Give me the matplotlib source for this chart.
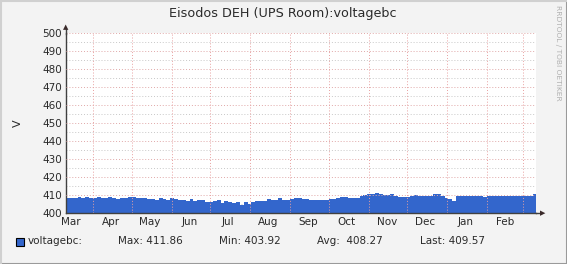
#!/usr/bin/env python3
"""RRDtool-style voltage graph, one year of data."""
from datetime import date
import matplotlib
matplotlib.use('Agg')
import matplotlib.pyplot as plt
from matplotlib.lines import Line2D

# data: one value every 3 days starting 2018-03-11
start = date(2018, 3, 11)
step_days = 3
voltage = [
    408.3, 408.3, 408.7, 409.3, 408.3, 409.0, 408.3, 408.7, 409.0, 408.7,
    408.7, 409.3, 408.3, 408.0, 408.7, 408.7, 408.9, 408.9, 408.3, 408.3,
    408.3, 408.0, 407.8, 407.2, 408.3, 408.0, 407.6, 408.3, 408.2, 407.6,
    407.5, 407.0, 407.8, 406.9, 407.2, 407.6, 406.5, 406.1, 406.8, 407.2,
    405.6, 406.8, 406.5, 405.9, 406.1, 404.6, 406.1, 405.4, 406.1, 406.7,
    406.9, 406.9, 408.0, 407.4, 407.4, 408.3, 407.4, 407.4, 407.8, 408.3,
    408.3, 408.0, 408.0, 407.2, 407.6, 407.4, 407.4, 407.4, 408.0, 408.0,
    408.3, 409.3, 409.3, 408.7, 408.7, 408.3, 409.8, 410.2, 410.6, 410.6,
    411.1, 410.7, 410.2, 410.2, 410.6, 409.4, 409.1, 409.3, 409.3, 409.6,
    410.2, 409.4, 409.6, 409.6, 409.6, 410.6, 410.6, 409.8, 408.7, 408.0,
    406.9, 409.8, 409.6, 409.6, 409.6, 409.6, 409.6, 409.6, 409.1, 409.6,
    409.4, 409.4, 409.4, 409.4, 409.4, 409.4, 409.6, 409.6, 409.6, 409.4,
    409.4, 410.6, 409.6,
]
months = ['Mar', 'Apr', 'May', 'Jun', 'Jul', 'Aug', 'Sep', 'Oct', 'Nov',
          'Dec', 'Jan', 'Feb']
stats = {'Max': '411.86', 'Min': '403.92', 'Avg': ' 408.27', 'Last': '409.57'}

span = 365
days = [i * step_days for i in range(len(voltage))] + [span]
vals = voltage + [voltage[-1]]

blue = '#3366cc'
text_c = '#2a2a2a'
fig = plt.figure(figsize=(5.67, 2.64), dpi=100)
fig.patch.set_facecolor('#f3f3f3')
W, H = 567.0, 264.0
ax = fig.add_axes([66 / W, 1 - 213.3 / H, 470 / W, (213.3 - 33.5) / H])
ax.set_facecolor('white')

ax.fill_between(days, 0, vals, step='post', color=blue, linewidth=0, zorder=2)
ax.set_xlim(0, span)
ax.set_ylim(400, 500)

# grid
for y in range(405, 500, 10):
    ax.axhline(y, color='#c8c8c8', lw=0.7, ls=(0, (1, 2)), zorder=1)
for y in range(410, 501, 10):
    ax.axhline(y, color='#e0a8a8', lw=0.7, ls=(0, (1, 2)), zorder=3)

month_starts = []
label_pos = []
for k in range(13):
    yr = 2018 + (2 + k) // 12
    mo = (2 + k) % 12 + 1
    d0 = (date(yr, mo, 1) - start).days
    d15 = (date(yr, mo, 15) - start).days
    if 0 < d0 < span:
        month_starts.append(d0)
    if 0 <= d15 < span:
        label_pos.append(d15)
for d in month_starts:
    ax.axvline(d, color='#e8a0a0', lw=0.7, ls=(0, (1, 2)), zorder=3)

ax.set_yticks(range(400, 501, 10))
ax.set_xticks(label_pos)
ax.set_xticklabels(months[:len(label_pos)])
ax.tick_params(length=0, labelsize=7.5, colors=text_c, pad=3)
ax.set_ylabel('V', fontsize=8, color=text_c, labelpad=14)
for s in ['top', 'right']:
    ax.spines[s].set_visible(False)
for s in ['left', 'bottom']:
    ax.spines[s].set_color('#404040')
    ax.spines[s].set_linewidth(1)

# axis arrows
fig.add_artist(Line2D([536 / W, 541 / W], [1 - 213.3 / H] * 2, color='#404040', lw=1))
fig.add_artist(Line2D([66 / W, 66 / W], [1 - 33.5 / H, 1 - 29 / H], color='#404040', lw=1))
fig.text(543 / W, 1 - 213.3 / H, '\u25b6', fontsize=5, color='#3a2a2a', ha='center', va='center')
fig.text(66 / W, 1 - 27.5 / H, '\u25b2', fontsize=5, color='#3a2a2a', ha='center', va='center')

fig.text(283 / W, 1 - 14 / H, 'Eisodos DEH (UPS Room):voltagebc', fontsize=9.2,
         color=text_c, ha='center', va='center')
fig.text(558 / W, 1 - 5 / H, 'RRDTOOL / TOBI OETIKER', fontsize=5.4, color='#b0b0b0',
         rotation=-90, ha='center', va='top')

# legend
ly = 1 - 241 / H
fig.patches.append(plt.Rectangle((16 / W, 1 - 245.5 / H), 8 / W, 8 / H, transform=fig.transFigure,
                                 facecolor=blue, edgecolor='black', lw=0.8))
fig.text(28 / W, ly, 'voltagebc:', fontsize=7.5, color=text_c, va='center')
fig.text(118 / W, ly, 'Max: ' + stats['Max'], fontsize=7.5, color=text_c, va='center')
fig.text(219 / W, ly, 'Min: ' + stats['Min'], fontsize=7.5, color=text_c, va='center')
fig.text(317 / W, ly, 'Avg: ' + stats['Avg'], fontsize=7.5, color=text_c, va='center')
fig.text(420 / W, ly, 'Last: ' + stats['Last'], fontsize=7.5, color=text_c, va='center')

# 3d frame
fig.add_artist(Line2D([0, 1], [0.5 / H, 0.5 / H], color='#9a9a9a', lw=1.5))
fig.add_artist(Line2D([1 - 0.5 / W, 1 - 0.5 / W], [0, 1], color='#9a9a9a', lw=1.5))
fig.add_artist(Line2D([0, 1], [1 - 0.5 / H, 1 - 0.5 / H], color='#d0d0d0', lw=1.5))
fig.add_artist(Line2D([0.5 / W, 0.5 / W], [0, 1], color='#d0d0d0', lw=1.5))

plt.savefig('out.png', dpi=100, facecolor=fig.get_facecolor())
print('saved out.png')
